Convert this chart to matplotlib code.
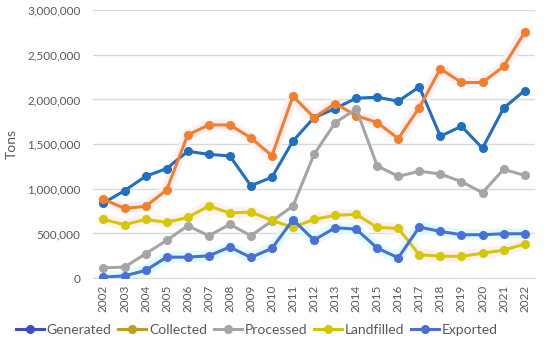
import numpy as np
import matplotlib.pyplot as plt
from matplotlib.lines import Line2D
from matplotlib.ticker import FuncFormatter

plt.rcParams['font.family'] = ['Lato', 'DejaVu Sans']

# data (tons)
years = [str(y) for y in range(2002, 2023)]
generated = [841000, 979000, 1140000, 1226000, 1420000, 1386000, 1368000, 1035000, 1129000, 1536000,
             1797000, 1898000, 2014000, 2025000, 1981000, 2141000, 1588000, 1700000, 1454000, 1902000, 2100000]
collected = [882000, 781000, 803000, 987000, 1603000, 1715000, 1715000, 1570000, 1371000, 2037000,
             1797000, 1954000, 1820000, 1741000, 1562000, 1910000, 2343000, 2190000, 2190000, 2369000, 2750000]
processed = [116000, 123000, 273000, 422000, 587000, 475000, 602000, 475000, 640000, 807000,
             1386000, 1738000, 1895000, 1256000, 1140000, 1196000, 1166000, 1080000, 957000, 1218000, 1151000]
landfilled = [658000, 598000, 658000, 624000, 680000, 807000, 729000, 740000, 646000, 568000,
              658000, 703000, 714000, 568000, 557000, 262000, 247000, 243000, 280000, 314000, 381000]
exported = [11000, 26000, 86000, 235000, 235000, 250000, 348000, 232000, 333000, 654000,
            426000, 564000, 549000, 336000, 228000, 572000, 523000, 486000, 486000, 497000, 497000]

series = [
    ("Generated", generated, "#1f6fc2", None, "#3c4fbe"),
    ("Collected", collected, "#f47f2a", "#fff0f8", "#c09a22"),
    ("Processed", processed, "#a5a5a5", None, "#a5a5a5"),
    ("Landfilled", landfilled, "#d6c800", "#fff0f8", "#cdc800"),
    ("Exported", exported, "#4a6fd6", "#e0fcfc", "#4a6fd0"),
]

fig = plt.figure(figsize=(5.5, 3.49), dpi=100)
ax = fig.add_axes([0.169, 0.203, 0.804, 0.768])

x = np.arange(len(years))
for name, vals, col, glow, lcol in series:
    if glow is not None:
        ax.plot(x, vals, color=glow, lw=8, solid_capstyle='round', solid_joinstyle='round', zorder=2)
for name, vals, col, glow, lcol in series:
    ax.plot(x, vals, color=col, lw=2.2, marker='o', ms=5.5, zorder=3)

ax.set_xlim(-0.5, len(years) - 0.5)
ax.set_ylim(0, 3000000)
ax.set_yticks(np.arange(0, 3000001, 500000))
ax.yaxis.set_major_formatter(FuncFormatter(lambda v, p: f"{int(v):,}"))
ax.set_xticks(x)
ax.set_xticklabels(years, rotation=90)
ax.tick_params(axis='both', length=0, labelsize=8.5, labelcolor='#595959')
ax.tick_params(axis='y', pad=9)
ax.tick_params(axis='x', pad=5)
ax.grid(axis='y', color='#d9d9d9', lw=1)
ax.set_axisbelow(True)
for s in ['top', 'right', 'left']:
    ax.spines[s].set_visible(False)
ax.spines['bottom'].set_color('#d9d9d9')
ax.set_ylabel("Tons", fontsize=10, color='#595959', labelpad=7)

handles = [Line2D([0], [0], color=lcol, lw=2.2, marker='o', ms=5.5) for _, _, _, _, lcol in series]
fig.legend(handles, [s[0] for s in series], loc='center', bbox_to_anchor=(0.467, 0.055), ncol=5,
           frameon=False, fontsize=10, labelcolor='#595959', handlelength=2.0, handletextpad=0.2,
           columnspacing=0.5)

plt.savefig("out.png", dpi=100)
